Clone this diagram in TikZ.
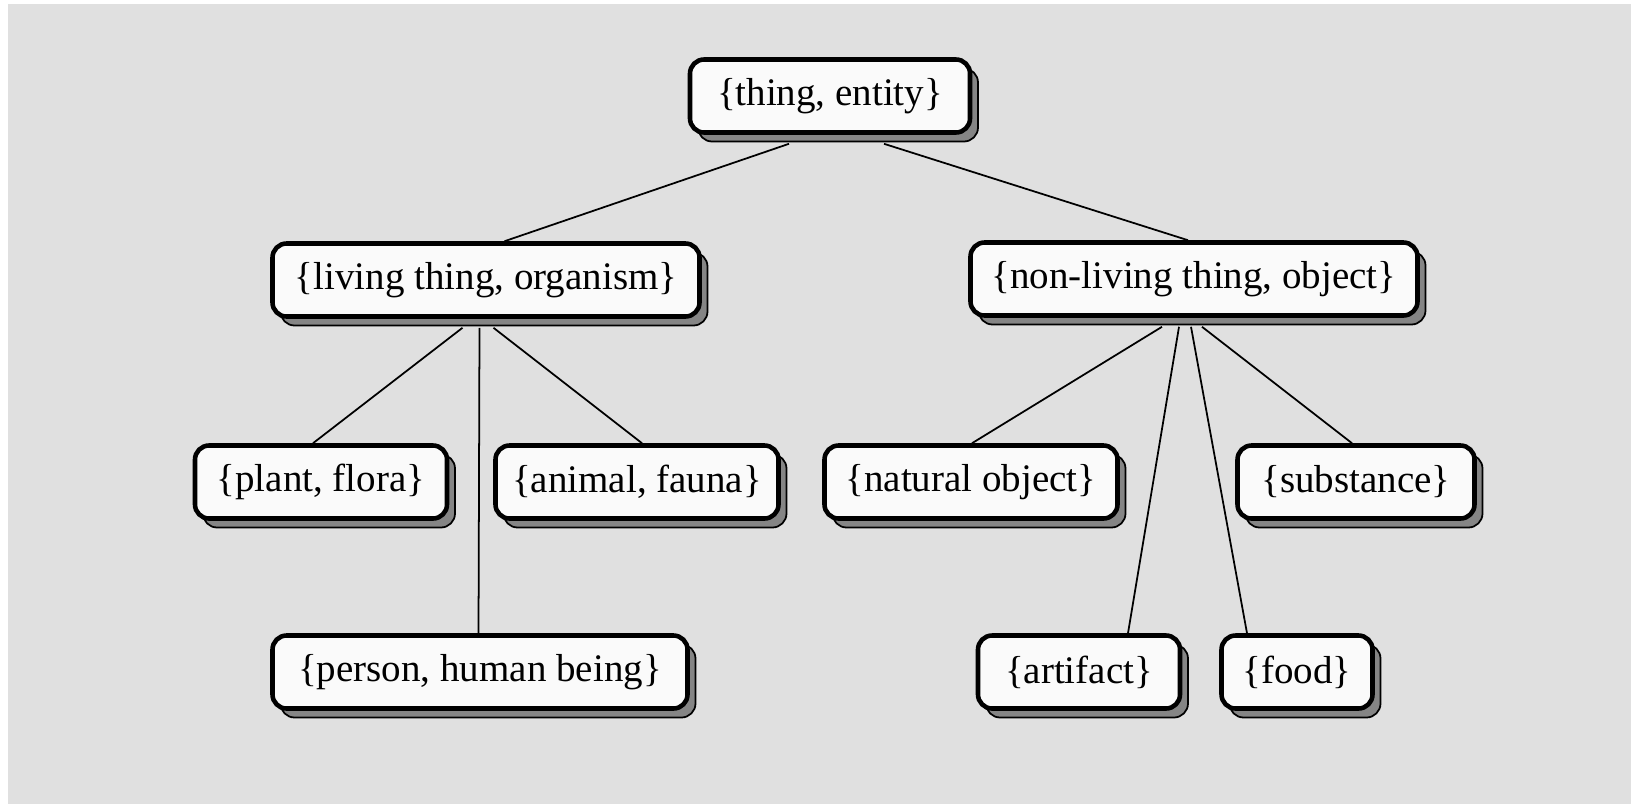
\documentclass[tikz,border=0pt]{standalone}
\usepackage{fontspec}
\setmainfont{Liberation Serif}
\usetikzlibrary{shadows}
\definecolor{panel}{RGB}{224,224,224}
\definecolor{boxfill}{RGB}{250,250,250}

\tikzset{
  syn/.style={draw=black, line width=1.3pt, rounded corners=4pt, fill=boxfill,
    minimum height=0.73cm, inner xsep=2pt, font=\fontsize{11.1}{13}\selectfont,
    general shadow={shadow xshift=0.08cm, shadow yshift=-0.09cm, fill=black!48,
      draw=black, line width=0.5pt}},
  link/.style={draw=black, line width=0.5pt}
}

\begin{document}
\begin{tikzpicture}
    \useasboundingbox (0,0) rectangle (16.31,8.04);
    \fill[white] (0,0) rectangle (16.31,8.04);
    \fill[panel] (0.08,0) rectangle (16.31,8.00);

    \node[syn, minimum width=2.80cm] (thing) at (8.30,7.08) {\{thing, entity\}};

    \node[syn, minimum width=4.27cm] (living) at (4.86,5.24) {\{living thing, organism\}};
    \node[syn, minimum width=4.47cm] (nonliving) at (11.94,5.25) {\{non-living thing, object\}};

    \node[syn, minimum width=2.52cm] (plant) at (3.21,3.22) {\{plant, flora\}};
    \node[syn, minimum width=2.83cm] (animal) at (6.37,3.22) {\{animal, fauna\}};
    \node[syn, minimum width=2.93cm] (natural) at (9.71,3.22) {\{natural object\}};
    \node[syn, minimum width=2.37cm] (substance) at (13.56,3.22) {\{substance\}};

    \node[syn, minimum width=4.15cm] (person) at (4.80,1.32) {\{person, human being\}};
    \node[syn, minimum width=2.02cm] (artifact) at (10.79,1.32) {\{artifact\}};
    \node[syn, minimum width=1.51cm] (food) at (12.97,1.32) {\{food\}};

    \draw[link] ([xshift=-0.41cm,yshift=-0.09cm]thing.south) -- ([xshift=0.185cm]living.north);
    \draw[link] ([xshift=0.54cm,yshift=-0.09cm]thing.south) -- ([xshift=-0.06cm]nonliving.north);

    \draw[link] ([xshift=-0.235cm,yshift=-0.09cm]living.south) -- ([xshift=-0.08cm]plant.north);
    \draw[link] ([xshift=-0.065cm,yshift=-0.09cm]living.south) -- ([xshift=-0.015cm]person.north);
    \draw[link] ([xshift=0.075cm,yshift=-0.09cm]living.south) -- ([xshift=0.05cm]animal.north);

    \draw[link] ([xshift=-0.32cm,yshift=-0.09cm]nonliving.south) -- ([xshift=0.01cm]natural.north);
    \draw[link] ([xshift=-0.15cm,yshift=-0.09cm]nonliving.south) -- ([xshift=0.49cm]artifact.north);
    \draw[link] ([xshift=-0.03cm,yshift=-0.09cm]nonliving.south) -- ([xshift=-0.50cm]food.north);
    \draw[link] ([xshift=0.08cm,yshift=-0.09cm]nonliving.south) -- ([xshift=-0.04cm]substance.north);
\end{tikzpicture}
\end{document}
